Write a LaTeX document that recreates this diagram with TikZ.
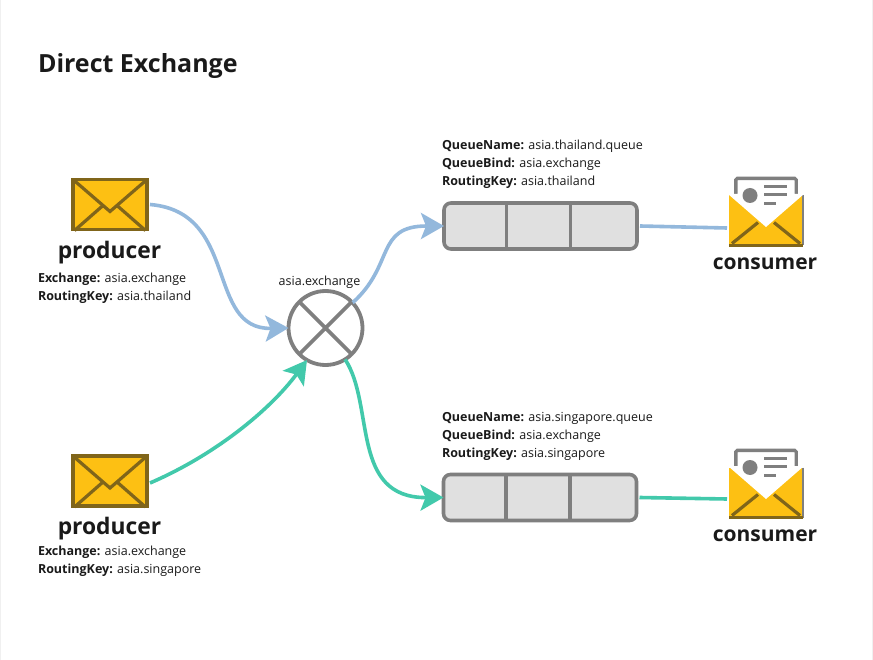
\documentclass[tikz,border=0pt]{standalone}
\usepackage{fontspec}
\setmainfont{Open Sans}
\usetikzlibrary{arrows.meta}
\definecolor{inkc}{HTML}{1A1A1A}
\definecolor{grayc}{HTML}{7F7F7F}
\definecolor{fillq}{HTML}{E0E0E0}
\definecolor{yel}{HTML}{FDC013}
\definecolor{brn}{HTML}{80651A}
\definecolor{blu}{HTML}{93B8DC}
\definecolor{tea}{HTML}{42C9AB}
\tikzset{
 every node/.style={inner sep=0pt,outer sep=0pt,text=inkc},
 envbox/.style={draw=none,minimum width=74pt,minimum height=50pt},
 title/.style={font=\bfseries\fontsize{25}{30}\selectfont,anchor=west},
 role/.style={font=\bfseries\fontsize{22.8}{26}\selectfont},
 rolec/.style={font=\bfseries\fontsize{21}{26}\selectfont},
 info/.style={font=\fontsize{12.5}{18}\selectfont,anchor=north west,align=left},
 small/.style={font=\fontsize{12.5}{15}\selectfont},
 queue/.style={draw=grayc,fill=fillq,line width=3.6pt,rounded corners=7pt,minimum width=193pt,minimum height=46pt},
 exch/.style={draw=grayc,fill=white,line width=3.8pt,circle,minimum size=74pt},
 link/.style={line width=3.6pt},
 tip/.style={-{Stealth[length=23pt,width=26pt,inset=5pt]}},
 part/.style={draw=grayc,line width=3.6pt},
 flap/.style={draw=brn,line width=3.2pt,line join=miter},
}
\newcommand{\sendenv}[1]{
 \fill[yel] (#1.north west) rectangle (#1.south east);
 \draw[flap] ([xshift=1.5pt,yshift=-1pt]#1.south west) -- ([yshift=-1pt,xshift=-7pt]#1.center) ;
 \draw[flap] ([xshift=-1.5pt,yshift=-1pt]#1.south east) -- ([yshift=-1pt,xshift=7pt]#1.center);
 \draw[flap] (#1.north west) -- ([yshift=-7pt]#1.center) -- (#1.north east);
 \draw[flap,line width=3.4pt] (#1.north west) rectangle (#1.south east);
}
\newcommand{\recvenv}[1]{
 \draw[part,fill=white,rounded corners=1.5pt] ([xshift=7pt,yshift=0pt]#1.north west) -- ([xshift=7pt,yshift=17pt]#1.north west) -- ([xshift=-7pt,yshift=17pt]#1.north east) -- ([xshift=-7pt,yshift=0pt]#1.north east) -- cycle;
 \fill[yel] (#1.north west) rectangle (#1.south east);
 \draw[grayc,line width=2.4pt] (#1.north east) -- (#1.south east);
 \draw[flap] ([xshift=3pt,yshift=2pt]#1.south west) -- ([xshift=-8pt,yshift=-2pt]#1.center);
 \draw[flap] ([xshift=-3pt,yshift=2pt]#1.south east) -- ([xshift=8pt,yshift=-2pt]#1.center);
 \draw[brn,line width=3.4pt] (#1.south west) -- (#1.south east);
 \fill[white] ([xshift=-1pt,yshift=1.5pt]#1.north west) -- ([yshift=-6.5pt]#1.center) -- ([xshift=1pt,yshift=1.5pt]#1.north east) -- ([xshift=-8.5pt,yshift=1.5pt]#1.north east) -- ([xshift=-8.5pt,yshift=15.2pt]#1.north east) -- ([xshift=8.5pt,yshift=15.2pt]#1.north west) -- ([xshift=8.5pt,yshift=1.5pt]#1.north west) -- cycle;
 \fill[grayc] ([xshift=21pt,yshift=0pt]#1.north west) circle (7.5pt);
 \draw[grayc,line width=3pt] ([xshift=35pt,yshift=9pt]#1.north west) -- ([xshift=58pt,yshift=9pt]#1.north west)
   ([xshift=35pt,yshift=1pt]#1.north west) -- ([xshift=58pt,yshift=1pt]#1.north west)
   ([xshift=35pt,yshift=-8pt]#1.north west) -- ([xshift=47pt,yshift=-8pt]#1.north west);
}
\begin{document}
\begin{tikzpicture}[x=1pt,y=-1pt]
\useasboundingbox (0,0) rectangle (873,660);
\fill[white] (0,0) rectangle (873,660);
\draw[black!6,line width=.8pt] (0.5,0) -- (0.5,660) (872.5,0) -- (872.5,660);
\node[title] (ttl) at (38,66) {Direct Exchange};

\node[envbox] (p1) at (110,204.5) {};
\node[envbox] (p2) at (110,481) {};
\node[envbox] (c1) at (766,220.5) {};
\node[envbox] (c2) at (766,492.5) {};
\node[exch] (ex) at (325.5,328) {};
\node[queue] (q1) at (540.5,226) {};
\node[queue] (q2) at (540,497.5) {};

% connectors
\draw[link,draw=blu,tip] ([xshift=3pt]p1.east) .. controls (240,212) and (205,330) .. (ex.west);
\draw[link,draw=tea,tip] ([xshift=3pt,yshift=-2pt]p2.east) .. controls (215,455) and (270,410) .. (ex.240);
\draw[link,draw=blu,tip] (ex.43) .. controls (395,265) and (375,226) .. (q1.west);
\draw[link,draw=tea,tip] (ex.-58) .. controls (375,405) and (350,498) .. (q2.west);
\draw[link,draw=blu] ([xshift=3pt]q1.east) -- ([yshift=-7.5pt,xshift=-2pt]c1.west);
\draw[link,draw=tea] ([xshift=3pt]q2.east) -- ([yshift=-6.5pt,xshift=-2pt]c2.west);

\draw[line width=3.6pt,draw=grayc] (ex.45) -- (ex.225) (ex.135) -- (ex.315);
\draw[part] (506.5,204) -- (506.5,248) (570.5,204) -- (570.5,248);
\draw[part] (506,476) -- (506,520) (570,476) -- (570,520);

\sendenv{p1}
\sendenv{p2}
\recvenv{c1}
\recvenv{c2}

\node[role] (pl1) at (109.5,252.5) {producer};
\node[role] (pl2) at (109.5,528.5) {producer};
\node[rolec] (cl1) at (765,264) {consumer};
\node[rolec] (cl2) at (765,536) {consumer};
\node[small] (exl) at (319.5,282) {asia.exchange};

\node[info] (i1) at (38,273) {\textbf{Exchange:} asia.exchange\\\textbf{RoutingKey:} asia.thailand};
\node[info] (i2) at (38,546) {\textbf{Exchange:} asia.exchange\\\textbf{RoutingKey:} asia.singapore};
\node[info] (i3) at (442,140) {\textbf{QueueName:} asia.thailand.queue\\\textbf{QueueBind:} asia.exchange\\\textbf{RoutingKey:} asia.thailand};
\node[info] (i4) at (442,412) {\textbf{QueueName:} asia.singapore.queue\\\textbf{QueueBind:} asia.exchange\\\textbf{RoutingKey:} asia.singapore};
\end{tikzpicture}
\end{document}
